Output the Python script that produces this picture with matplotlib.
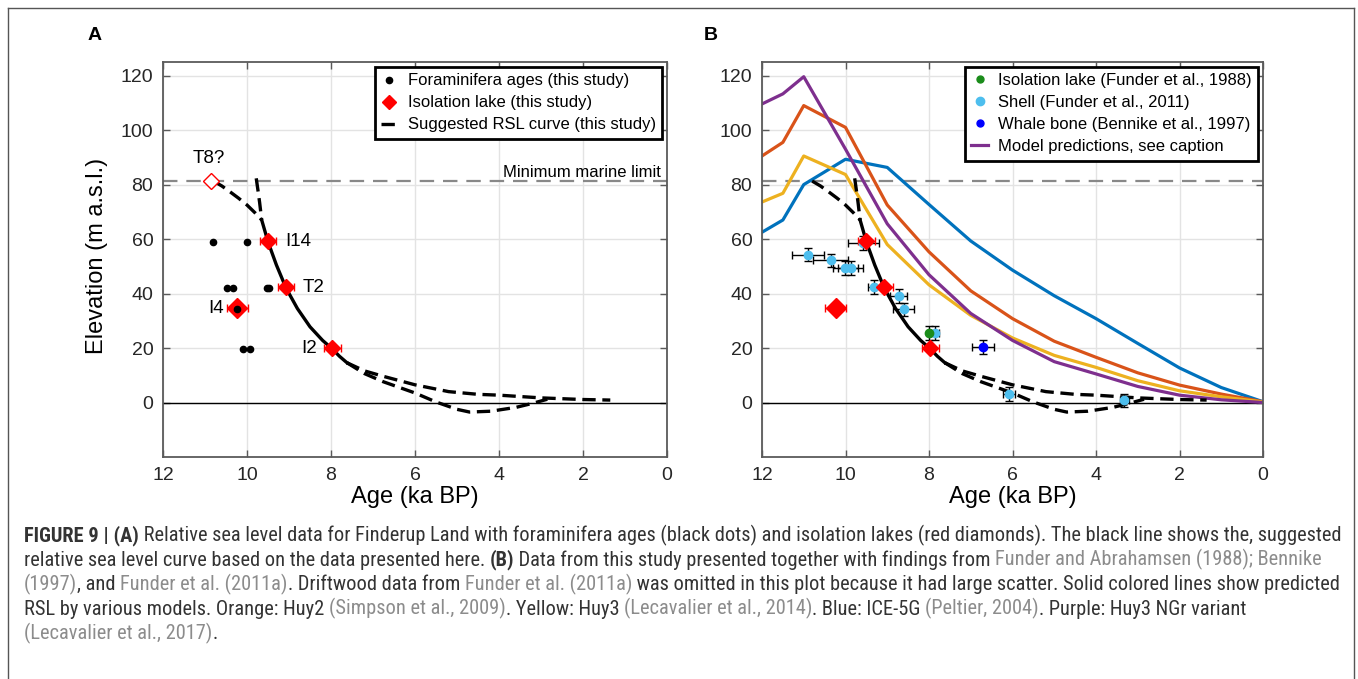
import matplotlib
matplotlib.use('Agg')
import matplotlib.pyplot as plt
from matplotlib.lines import Line2D
from matplotlib import font_manager


def pick_font(cands):
    for c in cands:
        try:
            font_manager.findfont(font_manager.FontProperties(family=c), fallback_to_default=False)
            return c
        except Exception:
            pass
    return 'DejaVu Sans'


MAIN_FONT = pick_font(['Liberation Sans', 'Arial', 'Roboto'])
CAP_FONT = pick_font(['Liberation Sans Narrow', 'Roboto Condensed', 'Liberation Sans'])
plt.rcParams['font.family'] = [MAIN_FONT, 'DejaVu Sans']

# ---------------- data ----------------
# foraminifera ages (this study)
foram_age = [10.81, 10.0, 10.47, 10.33, 9.52, 9.48, 10.23, 10.09, 9.93]
foram_elev = [59.0, 59.0, 42.0, 42.0, 42.0, 42.0, 34.5, 19.7, 19.7]

# isolation lakes (this study)
lake_names = ['I14', 'T2', 'I4', 'I2']
lake_age = [9.50, 9.07, 10.23, 7.97]
lake_elev = [59.2, 42.3, 34.6, 19.9]
lake_xerr = [0.2, 0.2, 0.25, 0.2]
lake_label_x = [8.79, 8.42, 10.74, 8.52]
t8_age = 10.86
t8_elev = 81.3
marine_limit = 81.4

# suggested RSL curve (pieces)
rsl_up1_age = [10.80, 10.60, 10.40, 10.20, 10.00, 9.80, 9.65]
rsl_up1_elev = [81.3, 79.5, 77.3, 75.0, 72.5, 69.5, 67.0]
rsl_up2_age = [9.78, 9.74, 9.70, 9.65]
rsl_up2_elev = [82.3, 78.0, 73.5, 67.0]
rsl_mid_age = [9.65, 9.50, 9.30, 9.07, 8.80, 8.50, 8.20, 7.97, 7.80, 7.62]
rsl_mid_elev = [67.0, 59.0, 50.5, 42.0, 34.5, 27.8, 22.8, 19.7, 17.0, 14.6]
rsl_lo1_age = [7.62, 7.20, 6.75, 6.00, 5.20, 4.50, 4.00, 3.00, 2.00, 1.35]
rsl_lo1_elev = [14.6, 11.6, 9.6, 6.5, 4.0, 3.0, 2.7, 1.7, 1.1, 0.9]
rsl_lo2_age = [7.62, 7.20, 6.75, 6.00, 5.50, 5.00, 4.70, 4.20, 3.60, 3.20, 2.85]
rsl_lo2_elev = [14.6, 10.6, 7.6, 3.5, 0.2, -2.5, -3.5, -3.2, -1.8, -0.3, 1.2]

# literature data
green_age = [8.0]
green_elev = [25.5]
shell_age = [10.90, 10.35, 10.01, 9.88, 9.57, 9.31, 8.73, 8.61, 7.86, 6.08, 3.32]
shell_elev = [54.3, 52.2, 49.4, 49.4, 58.6, 42.3, 39.2, 34.2, 25.5, 3.1, 0.8]
shell_xerr = [0.38, 0.42, 0.30, 0.30, 0.38, 0.16, 0.21, 0.25, 0.10, 0.15, 0.10]
whale_age = [6.71]
whale_elev = [20.4]
whale_xerr = [0.27]
elev_err = 2.5

# model predictions
model_age = [12, 11.5, 11, 10, 9, 8, 7, 6, 5, 4, 3, 2, 1, 0]
ice5g = [62.5, 67.0, 80.0, 89.3, 86.3, 72.7, 59.3, 48.6, 39.2, 30.8, 21.7, 12.7, 5.5, 0.3]
huy2 = [90.5, 95.5, 109.0, 101.0, 72.5, 55.3, 41.0, 30.8, 22.5, 16.6, 10.9, 6.4, 3.1, 0.3]
huy3 = [73.6, 76.8, 90.5, 83.7, 58.0, 43.2, 32.0, 23.7, 17.3, 12.9, 8.0, 4.3, 2.1, 0.2]
huy3_ngr = [109.6, 113.3, 119.6, 93.0, 65.6, 46.9, 32.7, 22.8, 15.0, 10.5, 5.9, 2.7, 1.0, 0.0]

x_ticks = [0, 2, 4, 6, 8, 10, 12]
y_ticks = [0, 20, 40, 60, 80, 100, 120]

# ---------------- figure ----------------
W, H = 1358, 679
fig = plt.figure(figsize=(W / 100, H / 100), dpi=100)
fig.patch.set_facecolor('white')


def fx(px):
    return px / W


def fy(py):
    return 1 - py / H


axA = fig.add_axes([fx(163), fy(457), fx(504), 395 / H])
axB = fig.add_axes([fx(762), fy(457), fx(501), 395 / H])

RED = '#ff0000'
DASH = (0, (4, 2))


def style_axis(ax):
    ax.set_xlim(12, 0)
    ax.set_ylim(-20, 125)
    ax.set_xticks(x_ticks)
    ax.set_yticks(y_ticks)
    ax.grid(True, color='#e3e3e3', lw=1)
    ax.set_axisbelow(True)
    ax.tick_params(direction='in', length=5, width=1, color='#5a5a5a',
                   labelcolor='#262626', labelsize=14, top=True, right=True, pad=7)
    for s in ax.spines.values():
        s.set_color('#5a5a5a')
        s.set_linewidth(1.3)
    ax.axhline(0, color='black', lw=1, zorder=1.5)
    ax.axhline(marine_limit, color='#888888', lw=1.6, ls=(0, (6.5, 4)), zorder=1.6)


def draw_rsl(ax):
    kw = dict(color='black', lw=2.4, zorder=3)
    ax.plot(rsl_up1_age, rsl_up1_elev, ls=DASH, **kw)
    ax.plot(rsl_up2_age, rsl_up2_elev, ls=DASH, **kw)
    ax.plot(rsl_mid_age, rsl_mid_elev, ls='-', **kw)
    ax.plot(rsl_lo1_age, rsl_lo1_elev, ls=DASH, **kw)
    ax.plot(rsl_lo2_age, rsl_lo2_elev, ls=DASH, **kw)


def draw_lakes(ax):
    ax.errorbar(lake_age, lake_elev, xerr=lake_xerr, fmt='none', ecolor=RED,
                elinewidth=1, capsize=3, capthick=1, zorder=4)
    sizes = [8, 8, 10, 8]
    for a, e, s in zip(lake_age, lake_elev, sizes):
        ax.plot(a, e, marker='D', ms=s, color=RED, mec=RED, ls='none', zorder=5)


# ---------- panel A ----------
style_axis(axA)
draw_rsl(axA)
draw_lakes(axA)
axA.plot(foram_age, foram_elev, 'o', color='black', ms=4.5, zorder=6)
axA.plot(t8_age, t8_elev, marker='D', ms=8.5, mfc='white', mec=RED, mew=1, ls='none', zorder=5)
axA.text(t8_age + 0.06, 89.5, 'T8?', fontsize=13.5, ha='center', va='center')
for n, lx, e in zip(lake_names, lake_label_x, lake_elev):
    axA.text(lx, e, n, fontsize=13.5, ha='center', va='center')
axA.text(0.15, 84.6, 'Minimum marine limit', fontsize=12, ha='right', va='center')

leg_kw = dict(loc='upper right', fontsize=12, fancybox=False, framealpha=1,
              edgecolor='black', handlelength=1.0, handletextpad=0.6,
              borderaxespad=0.3, labelspacing=0.42, borderpad=0.38)
hA = [Line2D([], [], marker='o', color='black', ms=4.5, ls='none'),
      Line2D([], [], marker='D', color=RED, ms=7, ls='none'),
      Line2D([], [], color='black', lw=2.4, ls=DASH)]
legA = axA.legend(hA, ['Foraminifera ages (this study)', 'Isolation lake (this study)',
                       'Suggested RSL curve (this study)'], **leg_kw)
legA.get_frame().set_linewidth(2)
axA.set_xlabel('Age (ka BP)', fontsize=17, va='center')
axA.xaxis.set_label_coords(0.5, -0.101)
axA.set_ylabel('Elevation (m a.s.l.)', fontsize=17, va='center')
axA.yaxis.set_label_coords(-0.131, 0.51)

# ---------- panel B ----------
style_axis(axB)
axB.plot(model_age, ice5g, color='#0072BD', lw=2.3, zorder=2)
axB.plot(model_age, huy2, color='#D95319', lw=2.3, zorder=2)
axB.plot(model_age, huy3, color='#EDB120', lw=2.3, zorder=2)
axB.plot(model_age, huy3_ngr, color='#7E2F8E', lw=2.3, zorder=2)
draw_rsl(axB)
eb_kw = dict(fmt='o', ms=6, ecolor='black', elinewidth=1, capsize=3, capthick=1, zorder=4)
axB.errorbar(shell_age, shell_elev, xerr=shell_xerr, yerr=elev_err, color='#4DBEEE', **eb_kw)
axB.errorbar(green_age, green_elev, yerr=elev_err, color='#1a8c1a', **eb_kw)
axB.errorbar(whale_age, whale_elev, xerr=whale_xerr, yerr=elev_err, color='#0000ff', **eb_kw)
draw_lakes(axB)

hB = [Line2D([], [], marker='o', color='#1a8c1a', ms=5, ls='none'),
      Line2D([], [], marker='o', color='#4DBEEE', ms=6, ls='none'),
      Line2D([], [], marker='o', color='#0000ff', ms=5, ls='none'),
      Line2D([], [], color='#7E2F8E', lw=2.3)]
legB = axB.legend(hB, ['Isolation lake (Funder et al., 1988)', 'Shell (Funder et al., 2011)',
                       'Whale bone (Bennike et al., 1997)', 'Model predictions, see caption'],
                  **leg_kw)
legB.get_frame().set_linewidth(2)
axB.set_xlabel('Age (ka BP)', fontsize=17, va='center')
axB.xaxis.set_label_coords(0.5, -0.101)

# panel letters
fig.text(fx(95), fy(36), 'A', fontsize=14, fontweight='bold', ha='center', va='center')
fig.text(fx(711), fy(36), 'B', fontsize=14, fontweight='bold', ha='center', va='center')

# outer frame
for xs, ys in [([8, 8], [8, H + 5]), ([8, 1354], [8, 8]), ([1354, 1354], [8, H + 5])]:
    fig.add_artist(Line2D([fx(v) for v in xs], [fy(v) for v in ys], color='#555555', lw=1))

# ---------------- caption ----------------
TXT = '#333333'
GRY = '#8c8c8c'
cap_lines = [
    [('FIGURE 9 | (A)', TXT, 'bold'),
     (' Relative sea level data for Finderup Land with foraminifera ages (black dots) and isolation '
      'lakes (red diamonds). The black line shows the, suggested', TXT, 'normal')],
    [('relative sea level curve based on the data presented here. ', TXT, 'normal'),
     ('(B)', TXT, 'bold'),
     (' Data from this study presented together with findings from ', TXT, 'normal'),
     ('Funder and Abrahamsen (1988); Bennike', GRY, 'normal')],
    [('(1997)', GRY, 'normal'), (', and ', TXT, 'normal'), ('Funder et al. (2011a)', GRY, 'normal'),
     ('. Driftwood data from ', TXT, 'normal'), ('Funder et al. (2011a)', GRY, 'normal'),
     (' was omitted in this plot because it had large scatter. Solid colored lines show predicted',
      TXT, 'normal')],
    [('RSL by various models. Orange: Huy2 ', TXT, 'normal'), ('(Simpson et al., 2009)', GRY, 'normal'),
     ('. Yellow: Huy3 ', TXT, 'normal'), ('(Lecavalier et al., 2014)', GRY, 'normal'),
     ('. Blue: ICE-5G ', TXT, 'normal'), ('(Peltier, 2004)', GRY, 'normal'),
     ('. Purple: Huy3 NGr variant', TXT, 'normal')],
    [('(Lecavalier et al., 2017)', GRY, 'normal'), ('.', TXT, 'normal')],
]

renderer = fig.canvas.get_renderer()


def text_width(s, size, weight):
    t1 = fig.text(0, 0, '|' + s + '|', fontsize=size, fontweight=weight, family=CAP_FONT)
    t2 = fig.text(0, 0, '||', fontsize=size, fontweight=weight, family=CAP_FONT)
    w = t1.get_window_extent(renderer).width - t2.get_window_extent(renderer).width
    t1.remove()
    t2.remove()
    return w


base = 12
w1 = sum(text_width(s, base, wt) for s, c, wt in cap_lines[0])
cap_size = base * (1314 / w1)

for i, runs in enumerate(cap_lines):
    x = 24
    y = 541 + i * 24.6
    for s, c, wt in runs:
        fig.text(fx(x), fy(y), s, fontsize=cap_size, color=c, fontweight=wt,
                 family=CAP_FONT, ha='left', va='baseline')
        x += text_width(s, cap_size, wt)

fig.savefig('out.png', dpi=100)
